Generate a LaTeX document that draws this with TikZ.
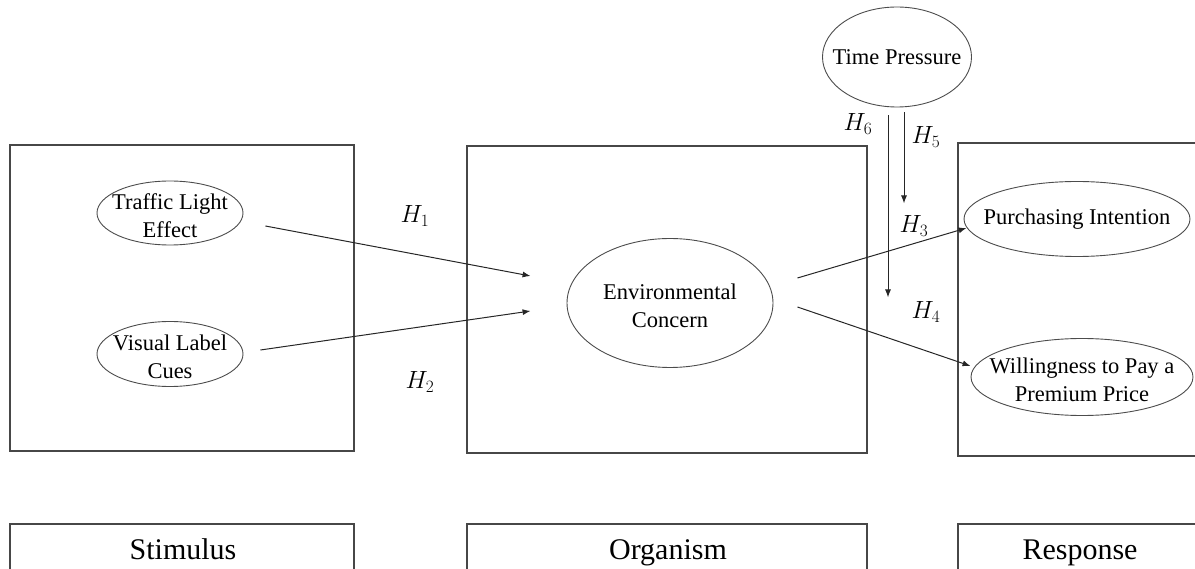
\documentclass[tikz,border=0pt]{standalone}
\usepackage{fontspec}
\setmainfont{Liberation Serif}
\usetikzlibrary{shapes.geometric,arrows.meta}

\begin{document}
\begin{tikzpicture}[x=1pt,y=-1pt,
  panel/.style={draw=black!72, line width=1.3pt},
  construct/.style={ellipse, draw=black!70, line width=0.9pt, inner sep=0pt},
  ctext/.style={align=center, inner sep=0pt, yshift=-3pt, font=\fontsize{22.5}{28}\selectfont},
  arr/.style={draw=black!85, line width=1pt, -{Latex[length=8pt,width=6pt]}},
  hyp/.style={inner sep=0pt, font=\fontsize{24}{28}\selectfont},
  stage/.style={anchor=base, inner sep=0pt, font=\fontsize{30}{36}\selectfont}]
\useasboundingbox (0,0) rectangle (1195,569);

% stage panels
\draw[panel] (10,145) rectangle (354,451);
\draw[panel] (467,146) rectangle (867,453);
\draw[panel] (1210,143) -- (958,143) -- (958,456) -- (1210,456);

% stage captions (open at the bottom)
\draw[panel] (10,580) -- (10,524) -- (354,524) -- (354,580);
\draw[panel] (467,580) -- (467,524) -- (867,524) -- (867,580);
\draw[panel] (958,580) -- (958,524) -- (1210,524) -- (1210,580);
\node[stage] (stim) at (183,559) {Stimulus};
\node[stage] (org) at (668,559) {Organism};
\node[stage] (resp) at (1080,559) {Response};

% constructs
\node[construct, minimum width=146pt, minimum height=64pt,
      label={[ctext]center:Traffic Light\\Effect}] (tle) at (170,213) {};
\node[construct, minimum width=146pt, minimum height=65pt,
      label={[ctext]center:Visual Label\\Cues}] (vlc) at (170,354) {};
\node[construct, minimum width=206pt, minimum height=129pt,
      label={[ctext]center:Environmental\\Concern}] (env) at (670,303) {};
\node[construct, minimum width=149pt, minimum height=100pt,
      label={[ctext,yshift=3pt]center:Time Pressure}] (tp) at (897,57) {};
\node[construct, minimum width=226pt, minimum height=75pt,
      label={[ctext,yshift=3pt]center:Purchasing Intention}] (pi) at (1077,219) {};
\node[construct, minimum width=222pt, minimum height=77pt,
      label={[ctext]center:Willingness to Pay a\\Premium Price}] (wtp) at (1082,377) {};

% hypothesised paths
\draw[arr] ([shift={(22,13)}]tle.east) -- ([shift={(-36,-27)}]env.west);
\draw[arr] ([shift={(17,-4)}]vlc.east) -- ([shift={(-36,8)}]env.west);
\draw[arr] ([shift={(24,-25)}]env.east) -- ([shift={(3,9)}]pi.west);
\draw[arr] ([shift={(24,4)}]env.east) -- ([shift={(0,-11)}]wtp.west);
\draw[arr] ([shift={(-9,8)}]tp.south) -- ++(0,182);
\draw[arr] ([shift={(7,5)}]tp.south) -- ++(0,91);

% hypothesis labels
\node[hyp] (h1) at (415,216) {$H_1$};
\node[hyp] (h2) at (420,382) {$H_2$};
\node[hyp] (h3) at (914,226) {$H_3$};
\node[hyp] (h4) at (926,312) {$H_4$};
\node[hyp] (h5) at (926,137) {$H_5$};
\node[hyp] (h6) at (858,124) {$H_6$};
\end{tikzpicture}
\end{document}
